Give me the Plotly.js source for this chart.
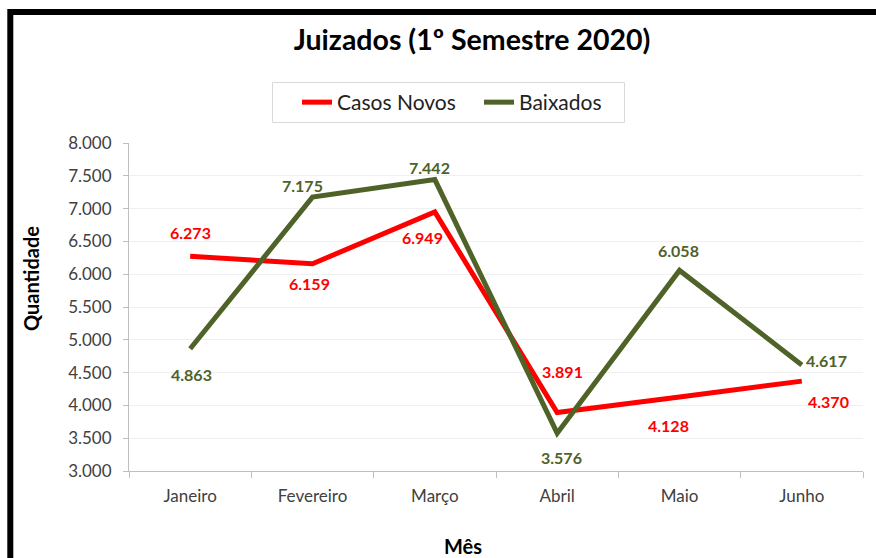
<!DOCTYPE html>
<html>
<head>
<meta charset="utf-8">
<script src="https://cdn.plot.ly/plotly-3.0.1.min.js"></script>
<style>
html,body{margin:0;padding:0;background:#fff;}
#chart{width:876px;height:558px;}
</style>
</head>
<body>
<div id="chart"></div>
<script>
// ---- data ----
const months = ["Janeiro", "Fevereiro", "Março", "Abril", "Maio", "Junho"];
const casosNovos = [6273, 6159, 6949, 3891, 4128, 4370];
const baixados = [4863, 7175, 7442, 3576, 6058, 4617];
const seriesNames = ["Casos Novos", "Baixados"];
const titleText = "Juizados (1º Semestre 2020)";
const yTitle = "Quantidade";
const xTitle = "Mês";

// ---- styling / label placement (pixels) ----
const RED = "#FF0000";
const GREEN = "#4F6228";
const FONT = "Lato, 'Open Sans', sans-serif";
const redShift = [[0, 24], [-3, -20], [-12, -26], [5, 41], [-11, -28], [27, -20]];
const greenShift = [[1, -26], [-10, 12], [-5, 12], [4, -24], [-1, 20], [25, 4]];

function fmt(v) {
  return String(v).replace(/\B(?=(\d{3})+(?!\d))/g, ".");
}

const traces = [
  {x: months, y: casosNovos, name: seriesNames[0], type: "scatter", mode: "lines",
   line: {color: RED, width: 5}, hoverinfo: "skip"},
  {x: months, y: baixados, name: seriesNames[1], type: "scatter", mode: "lines",
   line: {color: GREEN, width: 5}, hoverinfo: "skip"}
];

const W = 876, H = 558, L = 129, R = 13, T = 143, B = 87;
const pw = W - L - R, ph = H - T - B;
const px = v => (v - L) / pw;           // pixel x -> paper
const py = v => 1 - (v - T) / ph;       // pixel y -> paper

const annotations = [];
months.forEach((m, i) => {
  annotations.push({x: m, y: casosNovos[i], xref: "x", yref: "y", text: fmt(casosNovos[i]),
    showarrow: false, xshift: redShift[i][0], yshift: redShift[i][1],
    font: {family: FONT, size: 16, color: RED, weight: "bold"}});
  annotations.push({x: m, y: baixados[i], xref: "x", yref: "y", text: fmt(baixados[i]),
    showarrow: false, xshift: greenShift[i][0], yshift: greenShift[i][1],
    font: {family: FONT, size: 16, color: GREEN, weight: "bold"}});
});
annotations.push({text: yTitle, xref: "paper", yref: "paper", x: px(31), y: py(279),
  textangle: -90, showarrow: false, xanchor: "center", yanchor: "middle",
  font: {family: FONT, size: 20, color: "#000", weight: "bold"}});
annotations.push({text: xTitle, xref: "paper", yref: "paper", x: px(463), y: py(546),
  showarrow: false, xanchor: "center", yanchor: "middle",
  font: {family: FONT, size: 20, color: "#000", weight: "bold"}});

const layout = {
  width: W, height: H,
  margin: {l: L, r: R, t: T, b: B, pad: 0},
  paper_bgcolor: "#fff", plot_bgcolor: "#fff",
  separators: ",.",
  font: {family: FONT, color: "#404040"},
  title: {text: titleText, xref: "container", yref: "container", x: 472 / W, y: 1 - 40 / H,
    xanchor: "center", yanchor: "middle",
    font: {family: FONT, size: 28.5, color: "#000", weight: "bold"}},
  showlegend: true,
  legend: {orientation: "h", xref: "paper", yref: "paper", x: px(297), y: py(82),
    xanchor: "left", yanchor: "top", borderwidth: 0, entrywidth: 137,
    font: {family: FONT, size: 21, color: "#222"}, bgcolor: "rgba(0,0,0,0)"},
  xaxis: {type: "category", range: [-0.5, 5.5], showgrid: false, showline: true,
    linecolor: "#BFBFBF", linewidth: 1, ticks: "outside", tickson: "boundaries",
    ticklen: 6, tickcolor: "#BFBFBF", ticklabelstandoff: 10,
    tickfont: {family: FONT, size: 17, color: "#404040"}, zeroline: false, fixedrange: true},
  yaxis: {range: [3000, 8000], dtick: 500, tickformat: ",.0f", showgrid: true,
    gridcolor: "#F0F0F0", gridwidth: 1, showline: true, linecolor: "#BFBFBF", linewidth: 1,
    ticks: "outside", ticklen: 5, tickcolor: "#BFBFBF", ticklabelstandoff: 8,
    tickfont: {family: FONT, size: 17, color: "#404040"}, zeroline: false, fixedrange: true},
  shapes: [
    {type: "rect", xref: "paper", yref: "paper",
     x0: px(10.3), x1: px(W + 20), y0: py(H + 20), y1: py(12),
     line: {color: "#000", width: 6}, fillcolor: "rgba(0,0,0,0)", layer: "above"},
    {type: "rect", xref: "paper", yref: "paper",
     x0: px(272.5), x1: px(624.5), y0: py(122.5), y1: py(82.5),
     line: {color: "#D9D9D9", width: 1}, fillcolor: "rgba(0,0,0,0)", layer: "below"}
  ],
  annotations: annotations
};

Plotly.newPlot("chart", traces, layout, {displayModeBar: false, staticPlot: true});
</script>
</body>
</html>
